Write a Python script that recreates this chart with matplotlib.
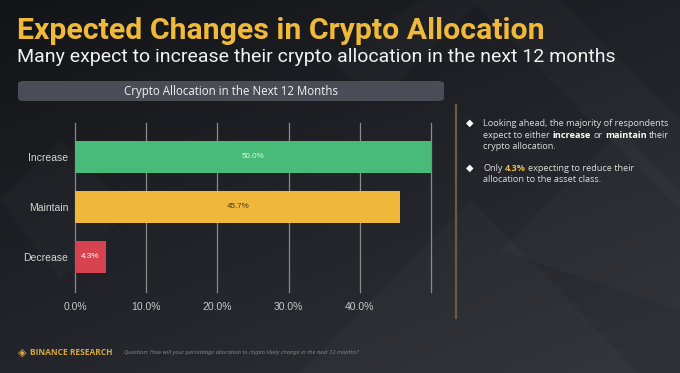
import numpy as np
import matplotlib
matplotlib.use("Agg")
import matplotlib.pyplot as plt
from matplotlib.patches import FancyBboxPatch, Polygon

# chart data
categories = ["Increase", "Maintain", "Decrease"]
values = [50.0, 45.7, 4.3]
bar_colors = ["#48bb78", "#efb83b", "#d6434f"]
label_colors = ["#e3f6ea", "#4a3a10", "#ffffff"]
xticks = [0, 10, 20, 30, 40, 50]
xtick_labels = ["0.0%", "10.0%", "20.0%", "30.0%", "40.0%", ""]

W, H = 680, 373
fig = plt.figure(figsize=(W / 100, H / 100), dpi=100)


def fx(px):
    return px / W


def fy(py):
    return 1 - py / H


# background: dark diagonal gradient plus a few faint facets
bg = fig.add_axes([0, 0, 1, 1], zorder=-10)
bg.set_xlim(0, W)
bg.set_ylim(H, 0)
bg.axis("off")
gx, gy = np.meshgrid(np.linspace(0, 1, 200), np.linspace(0, 1, 120))
t = np.clip(0.55 * gx + 0.75 * gy, 0, 1.2) / 1.2
c0 = np.array([0x12, 0x14, 0x17]) / 255
c1 = np.array([0x2e, 0x30, 0x37]) / 255
img = c0[None, None, :] * (1 - t[..., None]) + c1[None, None, :] * t[..., None]
bg.imshow(img, extent=[0, W, H, 0], aspect="auto", interpolation="bilinear")
facets = [
    [(470, 0), (680, 210), (680, 120), (560, 0)],
    [(300, 373), (470, 200), (640, 373)],
    [(500, 250), (620, 130), (680, 190), (680, 310)],
    [(330, 60), (420, 0), (480, 0), (380, 100)],
    [(0, 200), (60, 140), (130, 210), (60, 280)],
]
for f in facets:
    bg.add_patch(Polygon(f, closed=True, color="white", alpha=0.018, lw=0))

# titles
fig.text(fx(17), fy(31), "Expected Changes in Crypto Allocation", color="#f0b93a",
         fontsize=21.8, fontweight="bold", family="Roboto", va="center", ha="left")
fig.text(fx(17), fy(57), "Many expect to increase their crypto allocation in the next 12 months",
         color="#f2f2f2", fontsize=14.0, family="Roboto", va="center", ha="left")

# chart header box
box = FancyBboxPatch((fx(18), fy(101)), fx(444) - fx(18), fy(81) - fy(101),
                     boxstyle="round,pad=0,rounding_size=0.008", transform=fig.transFigure,
                     facecolor="#4a4d55", edgecolor="none")
fig.patches.append(box)
fig.text(fx(231), fy(91), "Crypto Allocation in the Next 12 Months", color="#f2f2f2",
         fontsize=8.3, family="Open Sans", ha="center", va="center")

# bar chart
ax = fig.add_axes([fx(75), fy(292), fx(431) - fx(75), fy(123) - fy(292)])
ax.set_facecolor("none")
y = np.arange(len(categories))
bars = ax.barh(y, values, height=0.64, color=bar_colors, zorder=3)
ax.set_xlim(0, 50)
ax.set_ylim(2.7, -0.68)
ax.set_xticks(xticks)
ax.set_xticklabels(xtick_labels, family="Liberation Sans", fontsize=7.5, color="#c8c8c8")
ax.set_yticks(y)
ax.set_yticklabels(categories, family="Liberation Sans", fontsize=7.5, color="#d4d4d4")
ax.tick_params(length=0, pad=5)
ax.tick_params(axis="x", pad=7)
ax.grid(axis="x", color="#8a8a8a", lw=0.9, zorder=1)
for gl in ax.get_xgridlines():
    gl.set_clip_on(False)
for s in ax.spines.values():
    s.set_visible(False)
for b, v, lc in zip(bars, values, label_colors):
    ax.text(v / 2, b.get_y() + b.get_height() / 2, f"{v:.1f}%", color=lc,
            fontsize=5.8, family="Liberation Sans", ha="center", va="center", zorder=4)

# separator line
fig.add_artist(plt.Line2D([fx(456), fx(456)], [fy(105), fy(318)], color="#6e5c36", lw=1.6))


# bullet notes with mixed styling
def rich_line(x, yy, pieces, size=6.6):
    last = None
    for txt, weight, color, gap in pieces:
        if last is None:
            last = fig.text(fx(x), fy(yy), txt, fontsize=size, fontweight=weight, color=color,
                            family="Open Sans", va="bottom", ha="left")
        else:
            last = ax.annotate(txt, xy=(1, 0), xycoords=last, xytext=(gap, 0),
                               textcoords="offset points", fontsize=size, fontweight=weight,
                               color=color, family="Open Sans", va="bottom", ha="left",
                               annotation_clip=False)


txtc = "#dcdcdc"
sp = 1.8
fig.text(fx(470), fy(123), "\u25c6", color="white", fontsize=7, ha="center", va="center",
         family="DejaVu Sans")
rich_line(483, 128, [("Looking ahead, the majority of respondents", "normal", txtc, 0)])
rich_line(483, 140, [("expect to either", "normal", txtc, 0), ("increase", "bold", "#ffffff", sp),
                     ("or", "normal", txtc, sp), ("maintain", "bold", "#ffffff", sp),
                     ("their", "normal", txtc, sp)])
rich_line(483, 151.5, [("crypto allocation.", "normal", txtc, 0)])
fig.text(fx(470), fy(168), "\u25c6", color="white", fontsize=7, ha="center", va="center",
         family="DejaVu Sans")
rich_line(483, 173, [("Only", "normal", txtc, 0), ("4.3%", "bold", "#f0b93a", sp),
                     ("expecting to reduce their", "normal", txtc, sp)])
rich_line(483, 184.5, [("allocation to the asset class.", "normal", txtc, 0)])

# footer
fig.text(fx(22.5), fy(352.5), "\u25c8", color="#d9a93a", fontsize=8, ha="center", va="center",
         family="DejaVu Sans")
fig.text(fx(29.5), fy(352.5), "BINANCE RESEARCH", color="#d9a93a", fontsize=6.0,
         fontweight="bold", family="Open Sans", ha="left", va="center")
fig.text(fx(124.5), fy(352.5),
         "Question: How will your percentage allocation to crypto likely change in the next 12 months?",
         color="#8c8c8c", fontsize=4.15, style="italic", family="Open Sans", ha="left", va="center")

fig.savefig("out.png", dpi=100, facecolor="#15171b")
